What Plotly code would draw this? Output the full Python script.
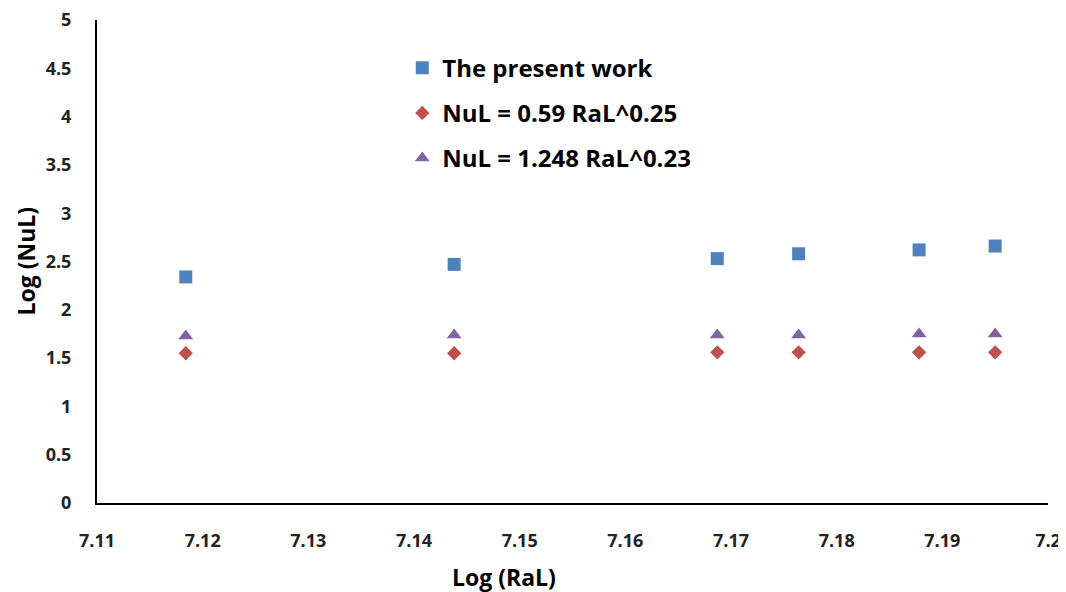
import plotly.graph_objects as go

log_ral = [7.1184, 7.1438, 7.1687, 7.1764, 7.1878, 7.1950]
present_work = [2.34, 2.47, 2.53, 2.58, 2.62, 2.66]
corr_059 = [1.55, 1.55, 1.56, 1.56, 1.56, 1.56]
corr_1248 = [1.73, 1.74, 1.74, 1.74, 1.75, 1.75]

series_names = ["The present work", "NuL = 0.59 RaL^0.25", "NuL = 1.248 RaL^0.23"]
x_title = "Log (RaL)"
y_title = "Log (NuL)"
x_ticks = [7.11, 7.12, 7.13, 7.14, 7.15, 7.16, 7.17, 7.18, 7.19, 7.2]
x_tick_text = ["7.11", "7.12", "7.13", "7.14", "7.15", "7.16", "7.17", "7.18", "7.19", "7.2"]
y_ticks = [0, 0.5, 1, 1.5, 2, 2.5, 3, 3.5, 4, 4.5, 5]
y_tick_text = ["0", "0.5", "1", "1.5", "2", "2.5", "3", "3.5", "4", "4.5", "5"]

FONT = "Open Sans"
fig = go.Figure()
fig.add_trace(go.Scatter(x=log_ral, y=present_work, mode="markers", name=series_names[0],
                         legendgroup="a",
                         marker=dict(symbol="square", size=13, color="#4F81BD")))
fig.add_trace(go.Scatter(x=log_ral, y=corr_059, mode="markers", name=series_names[1],
                         legendgroup="b",
                         marker=dict(symbol="diamond", size=11, color="#C0504D")))
fig.add_trace(go.Scatter(x=log_ral, y=corr_1248, mode="markers", name=series_names[2],
                         legendgroup="c",
                         marker=dict(symbol="triangle-up", size=13, color="#8064A2")))

# The page body has an 8px default margin, so the figure is sized to fit the window.
fig.update_layout(
    width=1058, height=584,
    margin=dict(l=89, r=18, t=12, b=89),
    plot_bgcolor="white", paper_bgcolor="white",
    font=dict(family=FONT, color="#000000"),
    showlegend=True,
    legend=dict(x=0.321, y=0.947, xanchor="left", yanchor="top",
                font=dict(family=FONT, size=24, color="#000000", weight="bold"),
                traceorder="grouped", tracegroupgap=11, bgcolor="rgba(0,0,0,0)",
                itemwidth=30),
    xaxis=dict(range=[7.11, 7.2], tickvals=x_ticks, ticktext=x_tick_text,
               showgrid=False, zeroline=False, showline=True, linecolor="black", linewidth=2,
               ticks="", ticklabelstandoff=20, automargin=False, ticklabeloverflow="allow",
               tickfont=dict(family=FONT, size=18, color="#222222", weight="bold")),
    yaxis=dict(range=[0, 5], tickvals=y_ticks, ticktext=y_tick_text,
               showgrid=False, zeroline=False, showline=True, linecolor="black", linewidth=2,
               ticks="", ticklabelstandoff=20, automargin=False, ticklabeloverflow="allow",
               tickfont=dict(family=FONT, size=18, color="#222222", weight="bold")),
    annotations=[
        dict(text=x_title, xref="paper", yref="paper", x=0.428, y=0, yshift=-74,
             xanchor="center", yanchor="middle", showarrow=False,
             font=dict(family=FONT, size=23, color="#000000", weight="bold")),
        dict(text=y_title, xref="paper", yref="paper", x=0, y=0.5, xshift=-72,
             xanchor="center", yanchor="middle", showarrow=False, textangle=-90,
             font=dict(family=FONT, size=23, color="#000000", weight="bold")),
    ],
)

fig.write_html("out.html")
